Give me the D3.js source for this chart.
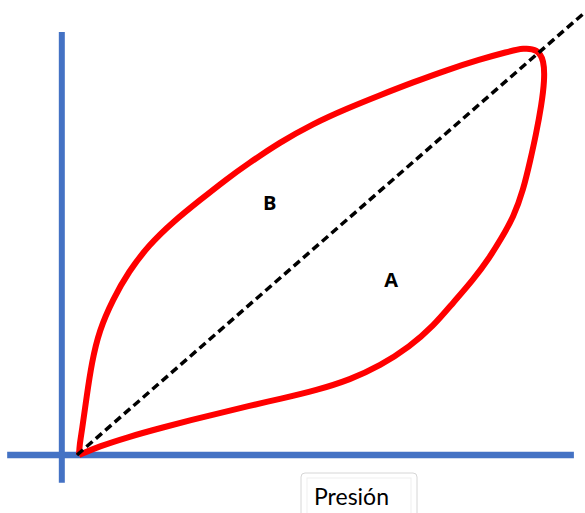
<!DOCTYPE html>
<html>
<head>
<meta charset="utf-8">
<script src="https://cdn.jsdelivr.net/npm/d3@7"></script>
<style>
  body { margin: 0; background: #fff; }
  svg { display: block; }
</style>
</head>
<body>
<svg id="chart" width="585" height="513"></svg>
<script>
// loop (presion, volumen) in chart units, origin at 0,0
var loopX = [0.4, 0.5, 1.0, 1.9, 2.9, 4.4, 7.1, 10.2, 14.2, 19.0, 24.3, 29.6, 33.6, 40.1, 46.6, 53.4, 59.9, 66.4, 73.1, 79.6, 85.0, 88.3, 91.0, 92.3, 92.4, 91.8, 90.7, 89.6, 88.2, 86.3, 83.7, 81.6, 78.3, 74.3, 70.4, 65.8, 59.9, 54.0, 47.4, 40.1, 34.2, 26.3, 16.4, 9.9, 4.5, 0.4];
var loopY = [0, 2.3, 5.7, 13.2, 20.9, 28.3, 35.3, 41.6, 47.6, 52.9, 57.8, 62.6, 65.9, 70.9, 75.1, 78.6, 81.6, 84.5, 87.3, 89.7, 91.4, 92.3, 92.0, 89.5, 85.0, 79.4, 72.6, 66.9, 60.1, 54.0, 48.8, 44.9, 39.7, 34.5, 29.2, 24.6, 20.2, 17.1, 14.7, 12.7, 11.2, 9.0, 6.1, 4.0, 2.0, 0];
var diagX = [0, 100];
var diagY = [0, 100];
var areaLabels = ["B", "A"];
var areaX = [38.1, 62.1];
var areaY = [57.1, 39.7];
var xTitle = "Presión";

var svg = d3.select("#chart");

var x = d3.scaleLinear().domain([0, 100]).range([77, 583]);
var y = d3.scaleLinear().domain([0, 100]).range([455, 14]);

var g = svg.append("g");

// axes (plain blue lines)
g.append("line")
    .attr("x1", x(-3)).attr("x2", x(-3))
    .attr("y1", y(95.9)).attr("y2", y(-6.3))
    .attr("stroke", "#4472C4")
    .attr("stroke-width", 6);

g.append("line")
    .attr("x1", x(-13.8)).attr("x2", x(98.2))
    .attr("y1", y(0)).attr("y2", y(0))
    .attr("stroke", "#4472C4")
    .attr("stroke-width", 6.5);

var pts = loopX.map(function (d, i) { return [d, loopY[i]]; });

var line = d3.line()
    .x(function (d) { return x(d[0]); })
    .y(function (d) { return y(d[1]); })
    .curve(d3.curveBasis);

g.append("path")
    .datum(pts)
    .attr("d", line)
    .attr("fill", "none")
    .attr("stroke", "#FF0000")
    .attr("stroke-width", 6)
    .attr("stroke-linejoin", "round");

g.append("line")
    .attr("x1", x(diagX[0])).attr("y1", y(diagY[0]))
    .attr("x2", x(diagX[1])).attr("y2", y(diagY[1]))
    .attr("stroke", "#000")
    .attr("stroke-width", 3.5)
    .attr("stroke-dasharray", "8,4.5");

g.selectAll("text.area")
    .data(areaLabels)
    .enter().append("text")
    .attr("class", "area")
    .attr("x", function (d, i) { return x(areaX[i]); })
    .attr("y", function (d, i) { return y(areaY[i]); })
    .attr("dy", "0.35em")
    .attr("text-anchor", "middle")
    .attr("font-family", "'Open Sans', Lato, sans-serif")
    .attr("font-weight", "bold")
    .attr("font-size", 20)
    .attr("fill", "#000")
    .text(function (d) { return d; });

// text box under the x axis
var box = svg.append("g").attr("transform", "translate(301,473)");
box.append("rect")
    .attr("width", 116).attr("height", 60)
    .attr("rx", 4)
    .attr("fill", "#fff")
    .attr("stroke", "#d6d6d6")
    .attr("stroke-width", 1);
box.append("rect")
    .attr("x", 6).attr("y", 5)
    .attr("width", 104).attr("height", 60)
    .attr("fill", "none")
    .attr("stroke", "#efefef")
    .attr("stroke-width", 1);
box.append("text")
    .attr("x", 13)
    .attr("y", 32)
    .attr("font-family", "Lato, 'Open Sans', sans-serif")
    .attr("font-size", 23)
    .attr("fill", "#000")
    .text(xTitle);
</script>
</body>
</html>
